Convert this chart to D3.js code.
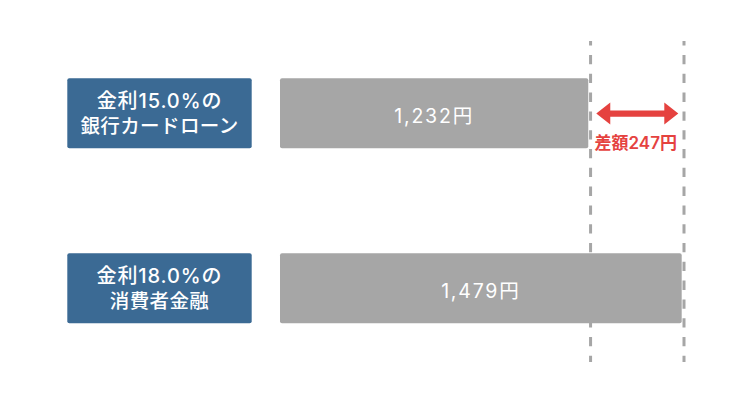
<!DOCTYPE html>
<html>
<head>
<meta charset="utf-8">
<script src="https://cdn.jsdelivr.net/npm/d3@7"></script>
<style>
  html, body { margin: 0; padding: 0; background: #fff; }
  svg { display: block; font-family: "Inter", "Noto Sans CJK JP", sans-serif; }
</style>
</head>
<body>
<svg id="chart" width="750" height="400"></svg>
<script>
// ---- data ----
const categories = ["card", "consumer"];
const labelLine1 = ["金利15.0%の", "金利18.0%の"];
const labelLine2 = ["銀行カードローン", "消費者金融"];
const values = [1232, 1479];
const valueLabels = ["1,232円", "1,479円"];
const diffLabel = "差額247円";
const axisMin = 417; // value at the bars' left edge (baseline of the chart)

// ---- layout ----
const svg = d3.select("#chart");
const barColor = "#a6a6a6";
const boxColor = "#3b6a94";
const red = "#e5423f";

const x = d3.scaleLinear().domain([axisMin, d3.max(values)]).range([280, 681.7]);
const y = d3.scaleBand().domain(categories).range([78.3, 323.3]).paddingInner(0.6).paddingOuter(0);
const bw = y.bandwidth();

// dashed reference lines at bar ends
svg.selectAll("line.ref").data(values).join("line")
  .attr("class", "ref")
  .attr("x1", d => x(d) + 2.3).attr("x2", d => x(d) + 2.3)
  .attr("y1", 41).attr("y2", 362)
  .attr("stroke", barColor).attr("stroke-width", 3)
  .attr("stroke-dasharray", "9.3,9.5")
  .attr("stroke-dashoffset", 4.8);

// label boxes
const g = svg.selectAll("g.row").data(categories).join("g").attr("class", "row");
g.append("rect")
  .attr("x", 67.3).attr("y", d => y(d))
  .attr("width", 184.4).attr("height", bw)
  .attr("rx", 2).attr("fill", boxColor);
g.append("text")
  .attr("x", 159.5).attr("y", d => y(d) + bw / 2 - 5.3)
  .attr("text-anchor", "middle").attr("fill", "#fff")
  .attr("font-size", 20).attr("font-weight", 500).attr("letter-spacing", 0.9)
  .text((d, i) => labelLine1[i]);
g.append("text")
  .attr("x", 159.5).attr("y", d => y(d) + bw / 2 + 19.7)
  .attr("text-anchor", "middle").attr("fill", "#fff")
  .attr("font-size", 19.5).attr("font-weight", 500).attr("letter-spacing", 0.4)
  .text((d, i) => labelLine2[i]);

// bars
g.append("rect")
  .attr("x", x(axisMin)).attr("y", d => y(d))
  .attr("width", (d, i) => x(values[i]) - x(axisMin)).attr("height", bw)
  .attr("rx", 2).attr("fill", barColor);
g.append("text")
  .attr("x", (d, i) => (x(axisMin) + x(values[i])) / 2)
  .attr("y", d => y(d) + bw / 2 + 9.7)
  .attr("text-anchor", "middle").attr("fill", "#fff")
  .attr("font-size", 19.5).attr("letter-spacing", 1.8)
  .text((d, i) => valueLabels[i]);

// difference arrow
const ax1 = x(values[0]) + 2.3 + 5.7;
const ax2 = x(values[1]) + 2.3 - 5.7;
const ay = y(categories[0]) + 35.3;
const hl = 14, hh = 11, sh = 3.2;
const arrowPath = [
  [ax1, ay], [ax1 + hl, ay - hh], [ax1 + hl, ay - sh], [ax2 - hl, ay - sh],
  [ax2 - hl, ay - hh], [ax2, ay], [ax2 - hl, ay + hh], [ax2 - hl, ay + sh],
  [ax1 + hl, ay + sh], [ax1 + hl, ay + hh]
];
svg.append("path")
  .attr("d", d3.line()(arrowPath) + "Z")
  .attr("fill", red);
svg.append("text")
  .attr("x", (ax1 + ax2) / 2 - 1.5).attr("y", 148.5)
  .attr("text-anchor", "middle").attr("fill", red)
  .attr("font-size", 17).attr("font-weight", 600)
  .text(diffLabel);
</script>
</body>
</html>
